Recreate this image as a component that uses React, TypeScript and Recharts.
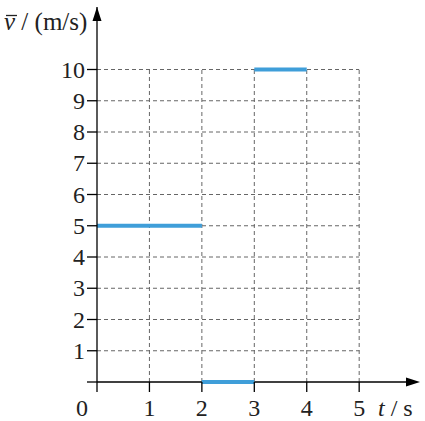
import React from 'react';
import { ComposedChart, Line, XAxis, YAxis, ReferenceLine, ReferenceDot } from 'recharts';

const xTicks = [0, 1, 2, 3, 4, 5];
const yTicks = [0, 1, 2, 3, 4, 5, 6, 7, 8, 9, 10];
const segStart = [0, 2, 3];
const segEnd = [2, 3, 4];
const segValue = [5, 0, 10];

const gridX = [1, 2, 3, 4, 5];
const gridY = [1, 2, 3, 4, 5, 6, 7, 8, 9, 10];
const axisPieces = [[0, 2], [3, 6.1]];

const FONT = "'Liberation Serif', 'Times New Roman', serif";
const BLUE = '#3f9ed9';
const GRID = '#666';
const textStyle = { fontFamily: FONT, fontSize: 24 };

const XTick = (props: any) => {
  const { x, y, payload } = props;
  const isZero = payload.value === 0;
  return (
    <text x={isZero ? x - 15 : x} y={y + 22} textAnchor="middle" style={textStyle} fill="#222">
      {payload.value}
    </text>
  );
};

const YTick = (props: any) => {
  const { x, y, payload } = props;
  if (payload.value === 0) return null;
  return (
    <text x={x} y={y + 8} textAnchor="end" style={textStyle} fill="#222">
      {payload.value}
    </text>
  );
};

const UpArrow = (props: any) => {
  const { cx, cy } = props;
  return (
    <g>
      <polygon points={`${cx},${cy} ${cx - 4.5},${cy + 14} ${cx + 4.5},${cy + 14}`} fill="#000" />
      <text x={4} y={30} style={{ fontFamily: FONT, fontSize: 25 }} fill="#222">
        <tspan style={{ fontStyle: 'italic' }}>v</tspan>
        <tspan> / (m/s)</tspan>
      </text>
      <line x1={6} x2={17} y1={15.5} y2={15.5} stroke="#222" strokeWidth={1.3} />
    </g>
  );
};

const RightArrow = (props: any) => {
  const { cx, cy } = props;
  return (
    <g>
      <polygon points={`${cx},${cy} ${cx - 14},${cy - 4.5} ${cx - 14},${cy + 4.5}`} fill="#000" />
      <text x={cx - 42} y={cy + 34} style={textStyle} fill="#222">
        <tspan style={{ fontStyle: 'italic' }}>t</tspan>
        <tspan> / s</tspan>
      </text>
    </g>
  );
};

export default function App() {
  return (
    <div style={{ position: 'absolute', left: 0, top: 0, width: 425, height: 421, background: '#fff' }}>
      <ComposedChart width={425} height={421} margin={{ top: 7, right: 5, left: 0, bottom: 0 }}>
        <XAxis
          type="number"
          dataKey="t"
          domain={[0, 6.16]}
          ticks={xTicks}
          tickSize={10}
          height={39}
          axisLine={false}
          tickLine={{ stroke: '#000', strokeWidth: 1.3 }}
          tick={<XTick />}
        />
        <YAxis
          type="number"
          dataKey="v"
          domain={[0, 12]}
          ticks={yTicks}
          tickSize={10}
          width={97}
          axisLine={{ stroke: '#000', strokeWidth: 1.3 }}
          tickLine={{ stroke: '#000', strokeWidth: 1.3 }}
          tick={<YTick />}
        />
        {gridX.map((gx) => (
          <ReferenceLine
            key={'gx' + gx}
            segment={[{ x: gx, y: 0 }, { x: gx, y: 10 }]}
            stroke={GRID}
            strokeWidth={1}
            strokeDasharray="4 3"
          />
        ))}
        {gridY.map((gy) => (
          <ReferenceLine
            key={'gy' + gy}
            segment={[{ x: 0, y: gy }, { x: 5, y: gy }]}
            stroke={GRID}
            strokeWidth={1}
            strokeDasharray="4 3"
          />
        ))}
        {axisPieces.map(([a, b]) => (
          <ReferenceLine
            key={'ax' + a}
            segment={[{ x: a, y: 0 }, { x: b, y: 0 }]}
            stroke="#000"
            strokeWidth={1.3}
            ifOverflow="visible"
          />
        ))}
        {segValue.map((val, i) => (
          <Line
            key={'s' + i}
            data={[{ t: segStart[i], v: val }, { t: segEnd[i], v: val }]}
            dataKey="v"
            stroke={BLUE}
            strokeWidth={4}
            dot={false}
            activeDot={false}
            isAnimationActive={false}
          />
        ))}
        <ReferenceDot x={0} y={12} r={0} shape={<UpArrow />} ifOverflow="visible" />
        <ReferenceDot x={6.16} y={0} r={0} shape={<RightArrow />} ifOverflow="visible" />
      </ComposedChart>
    </div>
  );
}
